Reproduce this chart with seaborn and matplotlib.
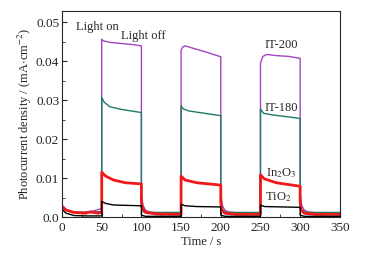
import numpy as np
import pandas as pd
import matplotlib
matplotlib.use("Agg")
import matplotlib.pyplot as plt
import seaborn as sns
from matplotlib.ticker import MultipleLocator, FuncFormatter

# -------------------------- data --------------------------
t_it200 = [0, 3, 10, 20, 30, 40, 48, 50, 50, 52, 60, 75, 90, 100,
           100, 102, 105, 110, 120, 135, 150,
           150, 152, 155, 165, 180, 200,
           200, 202, 205, 210, 220, 235, 250,
           250, 253, 258, 270, 285, 300,
           300, 302, 305, 310, 320, 335, 350]
v_it200 = [0.0030, 0.0022, 0.0015, 0.0012, 0.0013, 0.0016, 0.0021, 0.0023, 0.0456, 0.0452, 0.0448, 0.0445, 0.0442, 0.0439,
           0.0060, 0.0030, 0.0018, 0.0013, 0.0011, 0.0010, 0.0010,
           0.0428, 0.0436, 0.0439, 0.0433, 0.0424, 0.0411,
           0.0060, 0.0030, 0.0018, 0.0013, 0.0011, 0.0010, 0.0010,
           0.0395, 0.0412, 0.0417, 0.0414, 0.0412, 0.0407,
           0.0060, 0.0030, 0.0018, 0.0013, 0.0011, 0.0010, 0.0010]

t_it180 = [0, 3, 10, 20, 30, 40, 50, 50, 53, 60, 75, 100,
           100, 102, 110, 150,
           150, 153, 160, 180, 200,
           200, 202, 210, 250,
           250, 254, 265, 300,
           300, 302, 310, 350]
v_it180 = [0.0028, 0.0020, 0.0014, 0.0012, 0.0012, 0.0013, 0.0014, 0.0307, 0.0295, 0.0283, 0.0276, 0.0268,
           0.0025, 0.0014, 0.0012, 0.0012,
           0.0285, 0.0277, 0.0272, 0.0266, 0.0260,
           0.0025, 0.0014, 0.0012, 0.0012,
           0.0277, 0.0266, 0.0262, 0.0253,
           0.0025, 0.0014, 0.0012, 0.0012]

t_in2o3 = [0, 5, 15, 30, 35, 40, 45, 50, 50, 55, 65, 80, 100,
           100, 101, 105, 120, 150,
           150, 155, 170, 200,
           200, 201, 205, 220, 250,
           250, 255, 270, 300,
           300, 301, 305, 320, 350]
v_in2o3 = [0.0028, 0.0018, 0.0012, 0.0010, 0.0013, 0.0012, 0.0010, 0.0012, 0.0115, 0.0105, 0.0095, 0.0088, 0.0085,
           0.0040, 0.0025, 0.0012, 0.0008, 0.0007,
           0.0105, 0.0095, 0.0088, 0.0082,
           0.0040, 0.0020, 0.0010, 0.0007, 0.0007,
           0.0108, 0.0098, 0.0088, 0.0079,
           0.0040, 0.0020, 0.0010, 0.0007, 0.0007]

t_tio2 = [0, 5, 15, 30, 50, 50, 55, 65, 100,
          100, 105, 150,
          150, 155, 170, 200,
          200, 205, 250,
          250, 255, 300,
          300, 305, 350]
v_tio2 = [0.0020, 0.0010, 0.0004, 0.0003, 0.0003, 0.0040, 0.0035, 0.0031, 0.0029,
          0.0005, 0.0002, 0.0002,
          0.0033, 0.0029, 0.0027, 0.0026,
          0.0005, 0.0002, 0.0002,
          0.0031, 0.0027, 0.0025,
          0.0005, 0.0002, 0.0002]

series = {"IT-200": (t_it200, v_it200),
          "IT-180": (t_it180, v_it180),
          "In2O3": (t_in2o3, v_in2o3),
          "TiO2": (t_tio2, v_tio2)}
colors = {"IT-200": "#a244c4", "IT-180": "#1f7a68", "In2O3": "#f01818", "TiO2": "#000000"}
widths = {"IT-200": 1.0, "IT-180": 1.0, "In2O3": 2.0, "TiO2": 1.0}

df = pd.concat([pd.DataFrame({"t": t, "j": v, "s": k}) for k, (t, v) in series.items()],
               ignore_index=True)

# -------------------------- plot --------------------------
sns.set_style("ticks")
plt.rcParams["font.family"] = ["Liberation Serif", "DejaVu Serif"]
plt.rcParams["mathtext.fontset"] = "stix"
plt.rcParams["xtick.direction"] = "in"
plt.rcParams["ytick.direction"] = "in"

fig = plt.figure(figsize=(3.67, 2.56), dpi=100)
ax = fig.add_axes([0.169, 0.152, 0.757, 0.806])

for k in series:
    sub = df[df["s"] == k]
    sns.lineplot(data=sub, x="t", y="j", ax=ax, color=colors[k], lw=widths[k],
                 estimator=None, sort=False, legend=False)

ax.set_xlim(0, 350)
ax.set_ylim(0, 0.0529)
ax.xaxis.set_major_locator(MultipleLocator(50))
ax.xaxis.set_minor_locator(MultipleLocator(25))
ax.yaxis.set_major_locator(MultipleLocator(0.01))
ax.yaxis.set_minor_locator(MultipleLocator(0.005))
ax.yaxis.set_major_formatter(FuncFormatter(lambda v, p: "0.0" if abs(v) < 1e-9 else f"{v:.2f}"))
ax.tick_params(which="major", length=3.5, width=0.8, labelsize=9.5)
ax.tick_params(axis="x", which="major", pad=3.5)
ax.tick_params(axis="y", which="major", pad=2)
ax.tick_params(which="minor", length=2, width=0.6)
for sp in ax.spines.values():
    sp.set_linewidth(0.8)

ax.set_xlabel("Time / s", fontsize=9, labelpad=1.5)
ax.set_ylabel(r"Photocurrent density / (mA$\cdot$cm$^{-2}$)", fontsize=9, labelpad=1.5)

fs = 9
ax.text(45, 0.0487, "Light on", ha="center", va="center", fontsize=fs)
ax.text(103, 0.0464, "Light off", ha="center", va="center", fontsize=fs)
ax.text(276, 0.0441, "IT-200", ha="center", va="center", fontsize=fs)
ax.text(276, 0.0280, "IT-180", ha="center", va="center", fontsize=fs)
ax.text(276, 0.0113, r"In$_2$O$_3$", ha="center", va="center", fontsize=fs)
ax.text(273, 0.0051, r"TiO$_2$", ha="center", va="center", fontsize=fs)

fig.savefig("out.png", dpi=100)
